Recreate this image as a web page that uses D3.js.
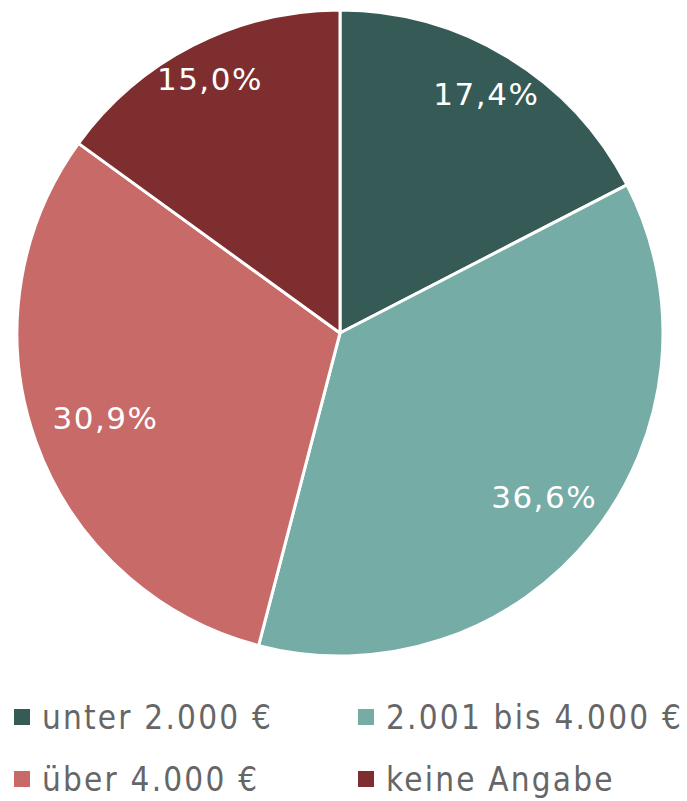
<!DOCTYPE html>
<html>
<head>
<meta charset="utf-8">
<script src="https://cdn.jsdelivr.net/npm/d3@7"></script>
<style>
  body { margin: 0; background: #fff; }
  svg { display: block; font-family: "DejaVu Sans Condensed", "Roboto", sans-serif; }
</style>
</head>
<body>
<svg id="chart" width="687" height="801"></svg>
<script>
// Data
const categories = ["unter 2.000 €", "2.001 bis 4.000 €", "über 4.000 €", "keine Angabe"];
const values = [17.4, 36.6, 30.9, 15.0];
const colors = ["#365b56", "#75aca6", "#c86a67", "#7e2e2f"];

const width = 687, height = 801;
const cx = 340, cy = 333, radius = 323;

const svg = d3.select("#chart");
const g = svg.append("g").attr("transform", `translate(${cx},${cy})`);

const pie = d3.pie().sort(null).value(d => d.value);
const arc = d3.arc().innerRadius(0).outerRadius(radius);
const data = pie(categories.map((c, i) => ({ name: c, value: values[i], color: colors[i] })));

g.selectAll("path.slice")
  .data(data)
  .join("path")
  .attr("class", "slice")
  .attr("d", arc)
  .attr("fill", d => d.data.color)
  .attr("stroke", "#fff")
  .attr("stroke-width", 3)
  .attr("stroke-linejoin", "round");

// Labels placed near the rim, pulled in by the horizontal extent of the text
const fmt = v => v.toFixed(1).replace(".", ",") + "%";
const labels = g.selectAll("text.lbl")
  .data(data)
  .join("text")
  .attr("class", "lbl")
  .attr("fill", "#fff")
  .attr("font-family", "'DejaVu Sans', sans-serif")
  .attr("font-size", 31)
  .attr("letter-spacing", 1.5)
  .attr("text-anchor", "middle")
  .attr("dominant-baseline", "central")
  .text(d => fmt(d.data.value));

labels.each(function(d) {
  const bb = this.getBBox();
  const a = (d.startAngle + d.endAngle) / 2;
  const ux = Math.sin(a), uy = -Math.cos(a);
  const dist = radius - 2 - 0.72 * bb.width * Math.abs(ux);
  d3.select(this).attr("x", ux * dist).attr("y", uy * dist + 1);
});

// Legend
const legend = svg.append("g");
const cols = [14, 358], rows = [717, 779];
const items = legend.selectAll("g.item")
  .data(data)
  .join("g")
  .attr("class", "item")
  .attr("transform", (d, i) => `translate(${cols[i % 2]},${rows[Math.floor(i / 2)]})`);

items.append("rect")
  .attr("x", 0).attr("y", -8)
  .attr("width", 16).attr("height", 16)
  .attr("fill", d => d.data.color);

items.append("text")
  .attr("x", 28)
  .attr("y", 0)
  .attr("dominant-baseline", "central")
  .attr("font-size", 33)
  .attr("letter-spacing", 2.2)
  .attr("fill", "#666")
  .text(d => d.data.name);
</script>
</body>
</html>
